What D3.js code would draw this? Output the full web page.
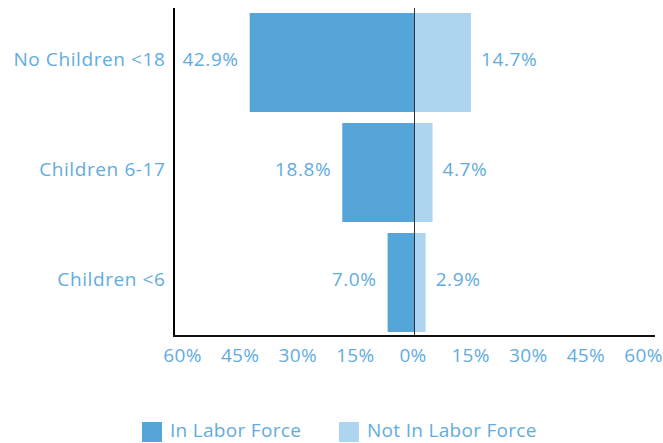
<!DOCTYPE html>
<html>
<head>
<meta charset="utf-8">
<script src="https://cdn.jsdelivr.net/npm/d3@7"></script>
<style>
  body { margin: 0; background: #fff; }
  text { font-family: "Open Sans", sans-serif; fill: #62ace0; font-size: 19px; letter-spacing: 0.6px; }
</style>
</head>
<body>
<div id="chart"></div>
<script>
// data
const categories = ['No Children <18', 'Children 6-17', 'Children <6'];
const inLabor = [42.9, 18.8, 7.0];
const notInLabor = [14.7, 4.7, 2.9];
const ticks = [-60, -45, -30, -15, 0, 15, 30, 45, 60];
const seriesNames = ['In Labor Force', 'Not In Labor Force'];

const width = 663, height = 443;
const darkBlue = '#55a5d9', lightBlue = '#aed5f0';

const svg = d3.select('#chart').append('svg')
    .attr('width', width)
    .attr('height', height);

const x = d3.scaleLinear().domain([-60, 60]).range([184, 645]);
const y = d3.scaleBand().domain(categories).range([7.5, 337.5])
    .paddingInner(0.1).paddingOuter(0.05);

// bars - in labor force go left
svg.selectAll('.barL')
    .data(categories)
    .enter()
    .append('rect')
    .attr('x', (d, i) => x(-inLabor[i]))
    .attr('y', d => y(d))
    .attr('width', (d, i) => x(0) - x(-inLabor[i]))
    .attr('height', y.bandwidth())
    .attr('fill', darkBlue);

svg.selectAll('.barR')
    .data(categories)
    .enter()
    .append('rect')
    .attr('x', x(0))
    .attr('y', d => y(d))
    .attr('width', (d, i) => x(notInLabor[i]) - x(0))
    .attr('height', y.bandwidth())
    .attr('fill', lightBlue);

// value labels
svg.selectAll('.lblL')
    .data(categories)
    .enter()
    .append('text')
    .attr('x', (d, i) => x(-inLabor[i]) - 11)
    .attr('y', d => y(d) + y.bandwidth() / 2 - 3)
    .attr('dy', '0.35em')
    .attr('text-anchor', 'end')
    .text((d, i) => inLabor[i].toFixed(1) + '%');

svg.selectAll('.lblR')
    .data(categories)
    .enter()
    .append('text')
    .attr('x', (d, i) => x(notInLabor[i]) + 10)
    .attr('y', d => y(d) + y.bandwidth() / 2 - 3)
    .attr('dy', '0.35em')
    .text((d, i) => notInLabor[i].toFixed(1) + '%');

// zero line over the bars
svg.append('line')
    .attr('x1', x(0)).attr('x2', x(0))
    .attr('y1', 8).attr('y2', 336)
    .attr('stroke', '#333')
    .attr('stroke-width', 1);

// axes lines
svg.append('line')
    .attr('x1', 174).attr('x2', 174)
    .attr('y1', 8).attr('y2', 337)
    .attr('stroke', '#000')
    .attr('stroke-width', 2);

svg.append('line')
    .attr('x1', 173).attr('x2', 655)
    .attr('y1', 336).attr('y2', 336)
    .attr('stroke', '#111')
    .attr('stroke-width', 2);

// category labels
svg.selectAll('.cat')
    .data(categories)
    .enter()
    .append('text')
    .attr('x', 165.5)
    .attr('y', d => y(d) + y.bandwidth() / 2 - 3)
    .attr('dy', '0.35em')
    .attr('text-anchor', 'end')
    .text(d => d);

// tick labels
svg.selectAll('.tick')
    .data(ticks)
    .enter()
    .append('text')
    .attr('x', d => x(d) - 1.5)
    .attr('y', 355)
    .attr('dy', '0.35em')
    .attr('text-anchor', 'middle')
    .style('letter-spacing', '0.3px')
    .text(d => Math.abs(d) + '%');

// legend
const legendX = [142, 339];
const legend = svg.selectAll('.legend')
    .data(seriesNames)
    .enter()
    .append('g')
    .attr('transform', (d, i) => `translate(${legendX[i]}, 422)`);

legend.append('rect')
    .attr('width', 20)
    .attr('height', 20)
    .attr('fill', (d, i) => i === 0 ? darkBlue : lightBlue);

legend.append('text')
    .attr('x', 28)
    .attr('y', 8.5)
    .attr('dy', '0.35em')
    .style('letter-spacing', '0.3px')
    .text(d => d);
</script>
</body>
</html>
